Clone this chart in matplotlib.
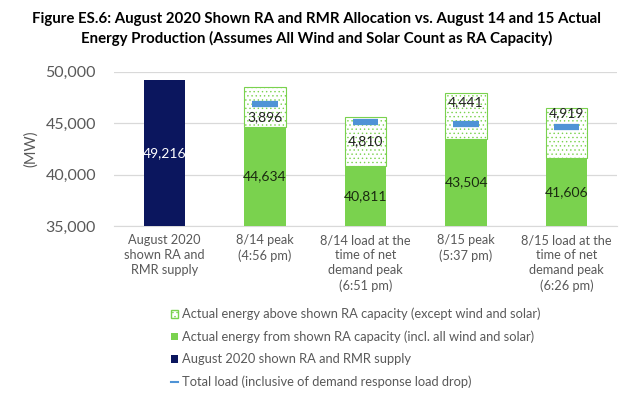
import numpy as np
import matplotlib
matplotlib.use('Agg')
import matplotlib.pyplot as plt
from matplotlib.patches import Patch
from matplotlib.lines import Line2D

# ── Data ─────────────────────────────────────────────────────────
categories = ["August 2020\nshown RA and\nRMR supply",
              "8/14 peak\n(4:56 pm)",
              "8/14 load at the\ntime of net\ndemand peak\n(6:51 pm)",
              "8/15 peak\n(5:37 pm)",
              "8/15 load at the\ntime of net\ndemand peak\n(6:26 pm)"]
ra_supply  = [49216, 0, 0, 0, 0]
from_ra    = [0, 44634, 40811, 43504, 41606]
above_ra   = [0, 3896, 4810, 4441, 4919]
total_load = [np.nan, 46900, 45150, 44950, 44600]
# label nudges (MW) for the upper segment, as placed in the original
above_shift = [0, -950, 0, 1300, 1950]

NAVY  = "#0B165E"
GREEN = "#7AD24E"
BLUE  = "#4F93D6"
GREY  = "#595959"

plt.rcParams.update({
    "font.family": ["Lato", "DejaVu Sans"],
    "figure.dpi": 100,
    "hatch.color": GREEN,
    "hatch.linewidth": 0.5,
})

fig = plt.figure(figsize=(6.34, 3.97))
ax = fig.add_axes([0.18, 0.431, 0.793, 0.388])

x = np.arange(len(categories))
w = 0.41
ymin = 35000

ax.bar(x, np.array(ra_supply) - ymin, w, bottom=ymin, color=NAVY, zorder=3)
ax.bar(x[1:], np.array(from_ra[1:]) - ymin, w, bottom=ymin, color=GREEN, zorder=3)
ax.bar(x[1:], above_ra[1:], w, bottom=from_ra[1:], facecolor="white",
       edgecolor=GREEN, hatch="....", lw=0.8, zorder=3)
ax.errorbar(x, total_load, xerr=0.125, fmt="none", ecolor=BLUE,
            elinewidth=4.5, capsize=0, zorder=4)

# labels
ax.text(x[0], (ymin + ra_supply[0]) / 2, f"{ra_supply[0]:,}", ha="center",
        va="center", color="white", fontsize=10, zorder=5)
for i in range(1, len(x)):
    ax.text(x[i], (ymin + from_ra[i]) / 2, f"{from_ra[i]:,}", ha="center",
            va="center", color="#1a2a10", fontsize=10, zorder=5)
    ax.text(x[i], from_ra[i] + above_ra[i] / 2 + above_shift[i],
            f"{above_ra[i]:,}", ha="center", va="center",
            color="#222222", fontsize=10, zorder=5)

ax.set_ylim(ymin, 50000)
ax.set_xlim(-0.5, len(x) - 0.5)
ax.set_yticks([35000, 40000, 45000, 50000])
ax.yaxis.set_major_formatter(matplotlib.ticker.StrMethodFormatter("{x:,.0f}"))
ax.tick_params(axis="y", length=0, labelsize=11.5, labelcolor=GREY, pad=13)
ax.set_xticks(x)
ax.set_xticklabels(categories, fontsize=9.2, color=GREY, linespacing=1.3)
ax.tick_params(axis="x", length=0, pad=6)
ax.grid(axis="y", color="#D9D9D9", lw=0.9, zorder=0)
for s in ["top", "right", "left"]:
    ax.spines[s].set_visible(False)
ax.spines["bottom"].set_color("#D9D9D9")
ax.set_ylabel("(MW)", fontsize=10.5, color=GREY, labelpad=5)

fig.suptitle("Figure ES.6: August 2020 Shown RA and RMR Allocation vs. August 14 and 15 Actual\n"
             "Energy Production (Assumes All Wind and Solar Count as RA Capacity)",
             fontsize=10.8, fontweight="bold", y=0.97, linespacing=1.45)

handles = [
    Patch(facecolor="white", edgecolor=GREEN, hatch="...."),
    Patch(facecolor=GREEN),
    Patch(facecolor=NAVY),
    Line2D([0], [0], color=BLUE, lw=1.5),
]
labels = ["Actual energy above shown RA capacity (except wind and solar)",
          "Actual energy from shown RA capacity (incl. all wind and solar)",
          "August 2020 shown RA and RMR supply",
          "Total load (inclusive of demand response load drop)"]
fig.legend(handles, labels, loc="upper left", bbox_to_anchor=(0.27, 0.225),
           frameon=False, fontsize=9.3, handlelength=0.55, handleheight=0.55,
           handletextpad=0.3, labelspacing=0.8, labelcolor=GREY,
           borderaxespad=0, borderpad=0)

fig.savefig("out.png", dpi=100)
